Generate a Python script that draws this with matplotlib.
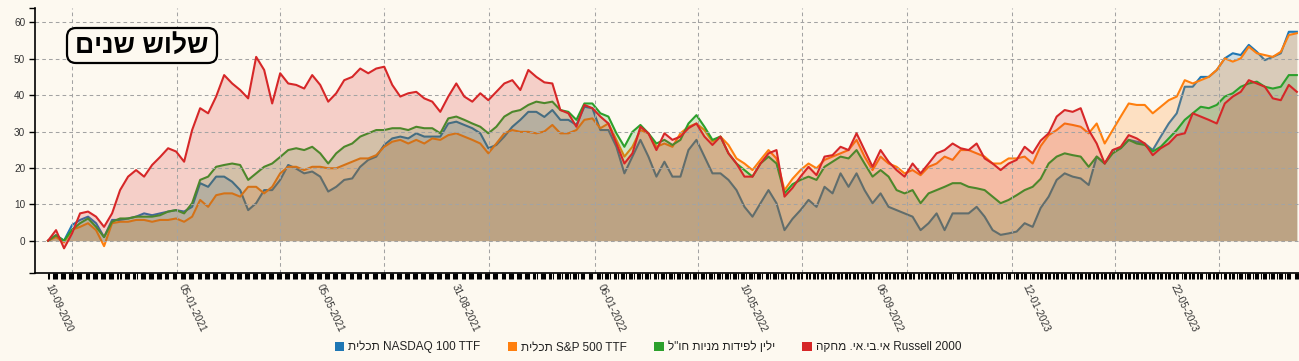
import re
import numpy as np
import pandas as pd
import matplotlib
matplotlib.use('Agg')
import matplotlib.pyplot as plt
import matplotlib.dates as mdates
from matplotlib.ticker import FixedLocator
from matplotlib.patches import Patch, FancyBboxPatch
from matplotlib.transforms import IdentityTransform
from pandas.tseries.holiday import USFederalHolidayCalendar

plt.rcParams['font.family'] = ['Liberation Sans', 'DejaVu Sans']

# ---------------- data ----------------
title = 'שלוש שנים'
series_names = ['תכלית NASDAQ 100 TTF', 'תכלית S&P 500 TTF',
                'ילין לפידות מניות חו"ל', 'אי.בי.אי. מחקה Russell 2000']
colors = ['#1f77b4', '#ff7f0e', '#2ca02c', '#d62728']
start_date = '2020-09-10'
end_date = '2023-09-08'
tick_labels = ['10-09-2020', '05-01-2021', '05-05-2021', '31-08-2021', '06-01-2022',
               '10-05-2022', '06-09-2022', '12-01-2023', '22-05-2023']
y_ticks = [0, 10, 20, 30, 40, 50, 60]

nasdaq = [0, 1.5, 0, 4.3, 5.7, 6.6, 4.8, 1.0, 5.7, 5.7,
          6.1, 6.6, 7.5, 7.0, 7.5, 8.0, 8.4, 8.0, 9.3, 15.8,
          14.8, 17.6, 17.6, 16.2, 13.9, 8.4, 10.3, 13.9, 13.9, 16.7,
          20.8, 19.8, 18.5, 19.0, 17.6, 13.5, 14.8, 16.7, 17.1, 20.3,
          22.2, 23.1, 26.3, 28.1, 28.6, 28.1, 29.5, 28.6, 28.6, 28.6,
          32.2, 32.7, 31.8, 30.9, 29.5, 25.4, 26.3, 28.6, 31.3, 33.2,
          35.4, 35.4, 34.0, 35.9, 33.2, 33.2, 31.8, 36.8, 36.4, 30.4,
          30.4, 25.8, 18.5, 23.1, 27.7, 23.1, 17.6, 21.7, 17.6, 17.6,
          24.9, 27.7, 23.1, 18.5, 18.5, 16.7, 13.9, 9.3, 6.6, 10.3,
          13.9, 10.3, 2.9, 6.0, 8.4, 11.2, 9.3, 14.8, 13.0, 18.5,
          14.8, 18.5, 13.9, 10.3, 13.0, 9.3, 8.4, 7.5, 6.6, 2.9,
          4.8, 7.5, 2.9, 7.5, 7.5, 7.5, 9.3, 6.6, 2.9, 1.6,
          2.0, 2.5, 4.8, 3.8, 9.0, 12.1, 16.7, 18.5, 17.6, 17.1,
          15.3, 23.1, 21.2, 24.9, 25.4, 27.7, 27.2, 26.7, 24.9, 28.6,
          32.2, 35.0, 42.3, 42.3, 45.0, 45.0, 46.9, 50.1, 51.5, 51.0,
          53.8, 51.9, 49.6, 50.5, 51.5, 57.4, 57.4]

sp500 = [0, 1.0, -0.5, 3.0, 3.8, 4.8, 2.9, -1.5, 4.8, 5.2,
         5.2, 5.7, 5.7, 5.2, 5.7, 5.7, 6.1, 5.2, 6.6, 11.2,
         9.3, 12.5, 13.0, 13.0, 12.1, 14.8, 14.8, 13.0, 14.8, 18.5,
         20.3, 20.3, 19.4, 20.3, 20.3, 19.9, 19.9, 20.8, 21.7, 22.6,
         22.6, 23.5, 25.8, 27.2, 27.7, 26.7, 27.7, 26.7, 28.1, 27.7,
         29.0, 29.5, 28.6, 27.7, 26.7, 24.0, 26.7, 29.5, 30.4, 29.9,
         29.9, 29.5, 30.0, 31.8, 29.5, 29.5, 30.4, 33.2, 33.6, 30.9,
         32.2, 27.7, 23.1, 25.8, 30.4, 29.5, 25.8, 26.7, 25.8, 29.5,
         31.3, 32.2, 30.4, 27.2, 28.6, 26.3, 22.6, 21.2, 19.4, 22.2,
         24.9, 22.6, 13.9, 17.0, 19.4, 21.2, 19.9, 22.2, 23.1, 24.0,
         24.9, 27.7, 23.1, 19.4, 23.1, 21.2, 20.3, 18.5, 19.4, 18.0,
         20.3, 21.2, 23.1, 22.2, 24.9, 24.9, 24.0, 23.1, 21.2, 21.2,
         22.6, 22.6, 23.1, 21.2, 26.0, 29.0, 30.4, 32.2, 31.8, 31.3,
         29.5, 32.2, 26.7, 30.4, 34.1, 37.7, 37.3, 37.3, 35.0, 36.8,
         38.6, 39.6, 44.1, 43.2, 44.1, 45.0, 46.9, 50.1, 49.2, 50.1,
         53.3, 51.5, 51.0, 50.5, 51.9, 56.5, 57.0]

yelin = [0, 1.5, 0, 3.0, 4.8, 6.1, 3.8, 1.0, 5.2, 6.1,
         6.1, 6.6, 6.6, 6.6, 7.0, 8.0, 8.4, 7.5, 10.3, 16.7,
         17.6, 20.3, 20.8, 21.2, 20.8, 16.7, 18.5, 20.3, 21.2, 23.0,
         24.9, 25.4, 24.9, 25.8, 24.0, 21.2, 24.0, 25.8, 26.7, 28.6,
         29.5, 30.4, 30.4, 30.9, 30.9, 30.4, 31.3, 30.9, 30.9, 29.5,
         33.6, 34.1, 33.2, 32.2, 31.3, 29.5, 31.3, 34.1, 35.4, 35.9,
         37.3, 38.2, 37.8, 38.2, 35.9, 35.4, 33.2, 37.7, 37.7, 35.0,
         34.1, 29.5, 25.8, 29.9, 31.8, 29.5, 26.7, 27.7, 26.3, 27.7,
         32.2, 34.5, 31.3, 27.7, 28.6, 24.0, 21.2, 19.4, 17.6, 21.2,
         23.1, 21.2, 13.0, 15.5, 16.7, 17.6, 16.7, 20.3, 21.7, 23.1,
         22.6, 24.9, 21.2, 17.6, 19.4, 17.6, 13.9, 13.0, 13.9, 10.3,
         13.0, 13.9, 14.8, 15.8, 15.8, 14.8, 14.4, 13.9, 12.1, 10.3,
         11.2, 12.5, 13.9, 14.8, 17.0, 21.2, 23.1, 24.0, 23.5, 23.1,
         20.3, 23.1, 21.2, 24.0, 25.4, 27.7, 26.7, 26.3, 24.5, 25.8,
         28.1, 30.4, 33.2, 35.0, 36.8, 36.4, 37.3, 39.6, 40.5, 42.3,
         43.2, 43.7, 42.3, 41.8, 42.3, 45.5, 45.5]

russell = [0, 2.9, -2.1, 2.0, 7.5, 8.0, 6.6, 3.8, 7.5, 13.9,
           17.6, 19.4, 17.6, 20.8, 23.0, 25.4, 24.5, 21.7, 30.4, 36.4,
           35.0, 39.6, 45.5, 43.2, 41.4, 39.1, 50.5, 46.9, 37.7, 46.0,
           43.2, 42.8, 41.8, 45.5, 42.8, 38.2, 40.5, 44.1, 45.0, 47.3,
           46.0, 47.3, 47.8, 42.8, 39.6, 40.5, 40.9, 39.1, 38.2, 35.4,
           39.6, 43.2, 39.6, 38.2, 40.5, 38.6, 40.9, 43.2, 44.1, 41.4,
           46.9, 45.0, 43.5, 43.2, 35.9, 35.0, 31.3, 37.3, 36.4, 34.1,
           32.2, 26.7, 21.2, 24.0, 31.3, 29.5, 24.9, 29.5, 27.7, 28.6,
           30.9, 32.2, 28.6, 26.3, 28.6, 24.0, 21.2, 17.6, 17.6, 21.2,
           24.0, 24.9, 12.1, 14.5, 17.6, 20.3, 18.0, 23.1, 23.5, 25.8,
           24.9, 29.5, 24.9, 20.3, 24.9, 21.7, 19.4, 17.6, 21.2, 18.5,
           21.2, 24.0, 24.9, 26.7, 25.4, 24.9, 26.7, 22.6, 21.2, 19.4,
           21.2, 22.2, 25.8, 24.0, 27.5, 29.5, 34.1, 35.9, 35.4, 36.4,
           30.4, 26.7, 21.2, 24.9, 25.8, 29.0, 28.1, 26.7, 23.5, 25.4,
           26.7, 29.0, 29.5, 35.0, 34.1, 33.2, 32.2, 37.7, 39.6, 40.9,
           44.1, 43.2, 42.3, 39.1, 38.6, 42.8, 40.9]


def vis(s):
    """Reverse Hebrew runs so that they display in visual (right-to-left) order."""
    return re.sub(r'[\u05D0-\u05EA](?:[\u05D0-\u05EA\s.\'"]*[\u05D0-\u05EA])?',
                  lambda m: m.group(0)[::-1], s)


# ---------------- figure ----------------
BG = '#fdf9f0'
W, H = 1299, 361
fig = plt.figure(figsize=(W / 100, H / 100), dpi=100, facecolor=BG)
ax = fig.add_axes([35 / W, (H - 273.3) / H, (W - 35) / W, (273.3 - 8.3) / H])
ax.set_facecolor(BG)

dates = pd.date_range(start_date, periods=len(nasdaq), freq='7D')
all_series = [nasdaq, sp500, yelin, russell]

t0 = pd.Timestamp(start_date)
ax.set_xlim(t0 - pd.Timedelta(days=11.4), t0 + pd.Timedelta(days=1093.9))
ax.set_ylim(-8.96, 63.85)

for i, (vals, c) in enumerate(zip(all_series, colors)):
    ax.fill_between(dates, 0, vals, color=c, alpha=0.2, lw=0, zorder=1.0 + i * 0.1)
    ax.plot(dates, vals, color=c, lw=1.5, zorder=1.05 + i * 0.1, solid_joinstyle='round')

# grid
grid_kw = dict(color='#a3a3a3', lw=0.75, ls=(0, (3.5, 3)), zorder=1.32)
for yv in y_ticks:
    ax.axhline(yv, **grid_kw)
for qd in pd.date_range('2020-10-01', '2023-07-01', freq='QS'):
    ax.axvline(qd, **grid_kw)

# spines
for s in ['top', 'right']:
    ax.spines[s].set_visible(False)
for s in ['left', 'bottom']:
    ax.spines[s].set_linewidth(1.2)
    ax.spines[s].set_color('black')

# y axis
ylo, yhi = ax.get_ylim()
ax.yaxis.set_major_locator(FixedLocator([ylo] + y_ticks + [yhi]))
ax.set_yticklabels([''] + [str(v) for v in y_ticks] + [''])
ax.tick_params(axis='y', length=4, width=1, color='black', labelsize=7.2,
               labelcolor='#333333', pad=3)

# x axis: daily trading-day ticks, labels at chosen dates
hol = USFederalHolidayCalendar().holidays(start_date, end_date)
trading = pd.bdate_range(start_date, end_date)
trading = trading[~trading.isin(hol)]
label_dates = pd.to_datetime(tick_labels, format='%d-%m-%Y')
ax.xaxis.set_major_locator(FixedLocator(mdates.date2num(label_dates)))
ax.xaxis.set_minor_locator(FixedLocator(
    list(mdates.date2num(trading)) + [mdates.date2num(ax.get_xlim()[0])]))
ax.set_xticklabels(tick_labels, rotation=-65, ha='left', va='center',
                   rotation_mode='anchor')
ax.tick_params(axis='x', which='both', length=4.5, width=0.75, color='black')
ax.tick_params(axis='x', which='major', labelsize=7.2, labelcolor='#333333', pad=4)

# title box (pixel coordinates, origin bottom-left)
box = FancyBboxPatch((67, H - 63), 150, 35,
                     boxstyle='round,pad=0,rounding_size=9',
                     transform=IdentityTransform(), fc=BG, ec='black', lw=1.6,
                     zorder=5)
fig.add_artist(box)
fig.text(142 / W, 1 - 45.5 / H, vis(title), ha='center', va='center',
         fontsize=19.2, fontweight='bold', color='black', zorder=6)

# legend
handles = [Patch(facecolor=c, edgecolor='none') for c in colors]
fig.legend(handles, [vis(n) for n in series_names], loc='center',
           bbox_to_anchor=(648 / W, 14 / H), ncol=4, frameon=False,
           handlelength=0.8, handleheight=0.8, handletextpad=0.35,
           columnspacing=2.3, fontsize=8.5, labelcolor='#222222')

fig.savefig('out.png', dpi=100, facecolor=BG)
